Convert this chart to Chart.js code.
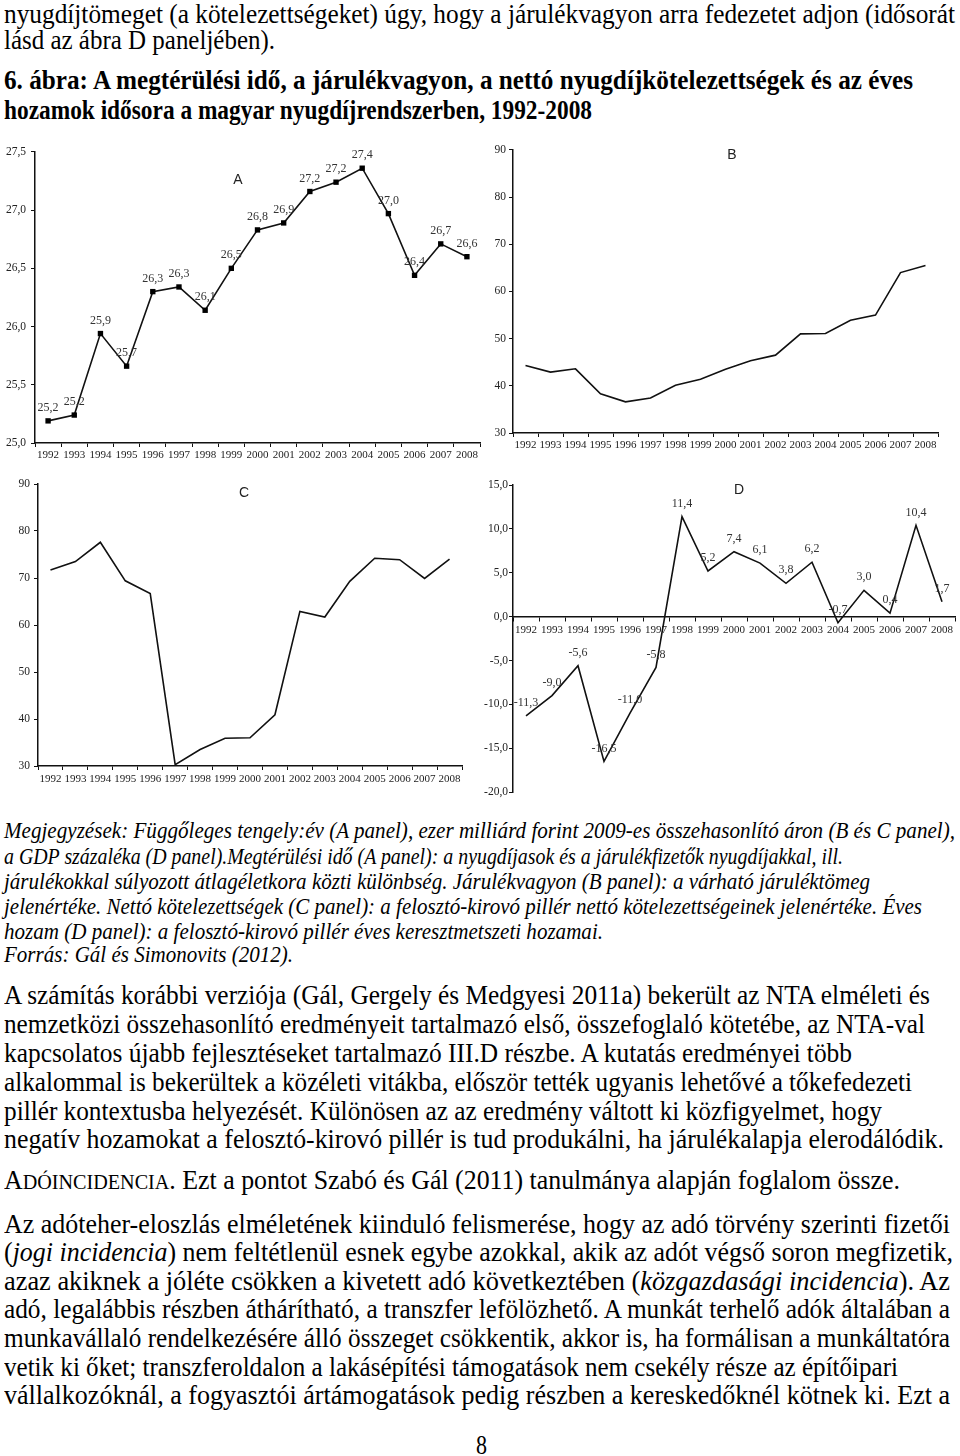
<!DOCTYPE html>
<html>
<head>
<meta charset="utf-8">
<script src="https://cdn.jsdelivr.net/npm/chart.js@4/dist/chart.umd.min.js"></script>
<style>
  body { margin: 0; width: 960px; height: 1456px; background: #fff; position: relative; overflow: hidden;
         font-family: "Liberation Serif", "Times New Roman", serif; color: #000; }
  .ln { position: absolute; left: 4px; width: max-content; white-space: nowrap; transform-origin: 0 0; line-height: 1; }
  .t28 { font-size: 28px; }
  .note { font-size: 24px; font-style: italic; }
  .sc { font-size: 0.78em; }
  canvas.panel { position: absolute; }
  .tag { position: absolute; font-family: "Liberation Sans", Arial, sans-serif; font-size: 14px; color: #222; transform: translate(-50%, -50%); }
</style>
</head>
<body>

<div class="ln t28" style="top:0px" data-w="951">nyugdíjtömeget (a kötelezettségeket) úgy, hogy a járulékvagyon arra fedezetet adjon (idősorát</div>
<div class="ln t28" style="top:26px" data-w="271">lásd az ábra D paneljében).</div>
<div class="ln t28" style="top:66px;font-weight:bold" data-w="909">6. ábra: A megtérülési idő, a járulékvagyon, a nettó nyugdíjkötelezettségek és az éves</div>
<div class="ln t28" style="top:96px;font-weight:bold" data-w="588">hozamok idősora a magyar nyugdíjrendszerben, 1992-2008</div>

<canvas id="chartA" class="panel" width="490" height="335" style="left:0;top:140px"></canvas>
<canvas id="chartB" class="panel" width="480" height="323" style="left:480px;top:140px"></canvas>
<canvas id="chartC" class="panel" width="480" height="326" style="left:0;top:470px"></canvas>
<canvas id="chartD" class="panel" width="480" height="330" style="left:480px;top:470px"></canvas>

<div class="tag" style="left:238px;top:179px">A</div>
<div class="tag" style="left:732px;top:154px">B</div>
<div class="tag" style="left:244px;top:492px">C</div>
<div class="tag" style="left:739px;top:489px">D</div>

<div class="ln note" style="top:818px" data-w="951">Megjegyzések: Függőleges tengely:év (A panel), ezer milliárd forint 2009-es összehasonlító áron (B és C panel),</div>
<div class="ln note" style="top:844px" data-w="839">a GDP százaléka (D panel).Megtérülési idő (A panel): a nyugdíjasok és a járulékfizetők nyugdíjakkal, ill.</div>
<div class="ln note" style="top:869px" data-w="866">járulékokkal súlyozott átlagéletkora közti különbség. Járulékvagyon (B panel): a várható járuléktömeg</div>
<div class="ln note" style="top:894px" data-w="918">jelenértéke. Nettó kötelezettségek (C panel): a felosztó-kirovó pillér nettó kötelezettségeinek jelenértéke. Éves</div>
<div class="ln note" style="top:919px" data-w="599">hozam (D panel): a felosztó-kirovó pillér éves keresztmetszeti hozamai.</div>
<div class="ln note" style="top:942px" data-w="289">Forrás: Gál és Simonovits (2012).</div>

<div class="ln t28" style="top:981px" data-w="926">A számítás korábbi verziója (Gál, Gergely és Medgyesi 2011a) bekerült az NTA elméleti és</div>
<div class="ln t28" style="top:1010px" data-w="921">nemzetközi összehasonlító eredményeit tartalmazó első, összefoglaló kötetébe, az NTA-val</div>
<div class="ln t28" style="top:1039px" data-w="848">kapcsolatos újabb fejlesztéseket tartalmazó III.D részbe. A kutatás eredményei több</div>
<div class="ln t28" style="top:1068px" data-w="908">alkalommal is bekerültek a közéleti vitákba, először tették ugyanis lehetővé a tőkefedezeti</div>
<div class="ln t28" style="top:1097px" data-w="878">pillér kontextusba helyezését. Különösen az az eredmény váltott ki közfigyelmet, hogy</div>
<div class="ln t28" style="top:1125px" data-w="940">negatív hozamokat a felosztó-kirovó pillér is tud produkálni, ha járulékalapja elerodálódik.</div>

<div class="ln t28" style="top:1166px" data-w="896">A<span class="sc">DÓINCIDENCIA</span>. Ezt a pontot Szabó és Gál (2011) tanulmánya alapján foglalom össze.</div>

<div class="ln t28" style="top:1210px" data-w="946">Az adóteher-eloszlás elméletének kiinduló felismerése, hogy az adó törvény szerinti fizetői</div>
<div class="ln t28" style="top:1238px" data-w="949">(<i>jogi incidencia</i>) nem feltétlenül esnek egybe azokkal, akik az adót végső soron megfizetik,</div>
<div class="ln t28" style="top:1267px" data-w="946">azaz akiknek a jóléte csökken a kivetett adó következtében (<i>közgazdasági incidencia</i>). Az</div>
<div class="ln t28" style="top:1295px" data-w="946">adó, legalábbis részben áthárítható, a transzfer lefölözhető. A munkát terhelő adók általában a</div>
<div class="ln t28" style="top:1324px" data-w="946">munkavállaló rendelkezésére álló összeget csökkentik, akkor is, ha formálisan a munkáltatóra</div>
<div class="ln t28" style="top:1353px" data-w="894">vetik ki őket; transzferoldalon a lakásépítési támogatások nem csekély része az építőipari</div>
<div class="ln t28" style="top:1381px" data-w="946">vállalkozóknál, a fogyasztói ártámogatások pedig részben a kereskedőknél kötnek ki. Ezt a</div>

<div class="ln t28" style="top:1431px;left:476px" data-w="11">8</div>

<script>
// years on every panel
const years = ['1992', '1993', '1994', '1995', '1996', '1997', '1998', '1999', '2000',
               '2001', '2002', '2003', '2004', '2005', '2006', '2007', '2008'];

// A: payback period (years)
const paybackA = [25.19, 25.24, 25.94, 25.66, 26.30, 26.34, 26.14, 26.50, 26.83,
                  26.89, 27.16, 27.24, 27.36, 26.97, 26.44, 26.71, 26.60];
// B: contribution asset
const assetB = [44.3, 42.9, 43.6, 38.3, 36.6, 37.4, 40.1, 41.4, 43.5,
                45.3, 46.5, 51.0, 51.1, 53.9, 55.0, 64.0, 65.5];
// C: net liabilities
const liabC = [71.7, 73.5, 77.6, 69.4, 66.7, 30.3, 33.5, 35.9, 36.0,
               40.9, 62.9, 61.7, 69.3, 74.2, 73.9, 69.9, 74.0];
// D: annual return (% of GDP)
const returnD = [-11.3, -9.0, -5.6, -16.5, -11.0, -5.8, 11.4, 5.2, 7.4,
                 6.1, 3.8, 6.2, -0.7, 3.0, 0.4, 10.4, 1.7];

const fmt1 = v => v.toFixed(1).replace('.', ',');
const serif = '"Liberation Serif", "Times New Roman", serif';

// squeeze text lines to the widths of the scanned page
document.querySelectorAll('.ln[data-w]').forEach(el => {
  const nat = el.getBoundingClientRect().width;
  el.style.transform = 'scaleX(' + (+el.dataset.w / nat) + ')';
});

/* value labels above points (panels A and D) */
const pointLabels = {
  id: 'pointLabels',
  afterDatasetsDraw(chart, args, opts) {
    if (!opts.show) return;
    const ctx = chart.ctx;
    const meta = chart.getDatasetMeta(0);
    const vals = chart.data.datasets[0].data;
    ctx.save();
    ctx.font = '12px ' + serif;
    ctx.fillStyle = '#333';
    ctx.textAlign = 'center';
    ctx.textBaseline = 'middle';
    meta.data.forEach((pt, i) => {
      ctx.fillText(fmt1(vals[i]), pt.x, pt.y - 13);
    });
    ctx.restore();
  }
};
Chart.register(pointLabels);

function makePanel(id, values, cfg) {
  const canvas = document.getElementById(id);
  if (!canvas) return;
  new Chart(canvas, {
    type: 'line',
    data: {
      labels: years,
      datasets: [{
        data: values,
        borderColor: '#111',
        borderWidth: 1.6,
        tension: 0,
        pointStyle: 'rect',
        pointRadius: cfg.markers ? 3.8 : 0,
        pointBackgroundColor: '#000',
        pointBorderWidth: 0
      }]
    },
    options: {
      responsive: false,
      animation: false,
      layout: { padding: cfg.padding },
      plugins: {
        legend: { display: false },
        tooltip: { enabled: false },
        pointLabels: { show: !!cfg.markers || !!cfg.labels }
      },
      scales: {
        x: {
          offset: true,
          position: cfg.xAtZero ? { y: 0 } : 'bottom',
          grid: { offset: true, drawOnChartArea: false, drawTicks: true, tickLength: 4, color: '#111' },
          border: { display: true, color: '#111', width: 1.5 },
          ticks: { autoSkip: false, maxRotation: 0, color: '#222', padding: cfg.xPad, font: { family: serif, size: 11 } },
          afterFit(scale) { scale.height = cfg.xh; }
        },
        y: {
          min: cfg.min,
          max: cfg.max,
          grid: { drawOnChartArea: false, drawTicks: true, tickLength: 4, color: '#111' },
          border: { display: true, color: '#111', width: 1.5 },
          ticks: {
            stepSize: cfg.step,
            color: '#222',
            padding: cfg.yPad,
            font: { family: serif, size: 11.5 },
            callback: v => cfg.decimals ? fmt1(v) : String(v)
          },
          afterFit(scale) { scale.width = cfg.yw; }
        }
      }
    }
  });
}

makePanel('chartA', paybackA, {
  min: 25, max: 27.5, step: 0.5, decimals: true, markers: true,
  yw: 35, xh: 32, xPad: 2, yPad: 5,
  padding: { top: 10, right: 10, bottom: 0, left: 0 }
});
makePanel('chartB', assetB, {
  min: 30, max: 90, step: 10, decimals: false,
  yw: 33, xh: 30, xPad: 2, yPad: 3,
  padding: { top: 9, right: 22, bottom: 0, left: 0 }
});
makePanel('chartC', liabC, {
  min: 30, max: 90, step: 10, decimals: false,
  yw: 38, xh: 30, xPad: 3, yPad: 4,
  padding: { top: 14, right: 18, bottom: 0, left: 0 }
});
makePanel('chartD', returnD, {
  min: -20, max: 15, step: 5, decimals: true, labels: true, xAtZero: true,
  yw: 33, xh: 30, xPad: 3, yPad: 1,
  padding: { top: 15, right: 5, bottom: 7, left: 0 }
});
</script>
</body>
</html>
